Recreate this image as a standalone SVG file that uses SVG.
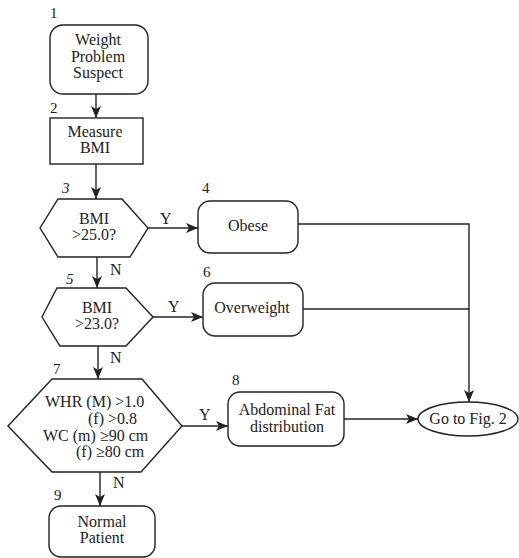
<svg xmlns="http://www.w3.org/2000/svg" width="519" height="558" viewBox="0 0 519 558">
<defs>
<marker id="ah" viewBox="0 0 12 10" refX="12" refY="5" markerWidth="12" markerHeight="10" markerUnits="userSpaceOnUse" orient="auto">
<path d="M0,0 L12,5 L0,10 L3,5 Z" fill="#222"/>
</marker>
<style>
.s{fill:#fff;stroke:#222;stroke-width:1.4}
.c{fill:none;stroke:#222;stroke-width:1.4}
.a{marker-end:url(#ah)}
text{font-family:"Liberation Serif","Times New Roman",serif;font-size:16px;fill:#222}
.m{text-anchor:middle}
.n{font-size:15px}
.i{font-style:italic}
</style>
</defs>
<g id="connectors">
<line class="c a" x1="96" y1="94" x2="96" y2="118"/>
<line class="c a" x1="96" y1="164" x2="96" y2="199"/>
<line class="c a" x1="148" y1="228" x2="198" y2="228"/>
<line class="c a" x1="97" y1="257" x2="97" y2="288"/>
<line class="c a" x1="153" y1="317" x2="203" y2="317"/>
<line class="c a" x1="98" y1="346" x2="98" y2="379"/>
<line class="c a" x1="182" y1="426" x2="228" y2="426"/>
<line class="c a" x1="100" y1="472" x2="100" y2="506"/>
<polyline class="c" points="298,224 469,224 469,309 303,309"/>
<line class="c a" x1="469" y1="309" x2="469" y2="402"/>
<line class="c a" x1="344" y1="419" x2="418" y2="419"/>
<text x="160" y="224">Y</text>
<text x="110" y="275">N</text>
<text x="168" y="312">Y</text>
<text x="110" y="363">N</text>
<text x="199" y="420">Y</text>
<text x="113" y="488">N</text>
</g>
<g id="n1">
<rect class="s" x="50" y="25" width="98" height="69" rx="13"/>
<text class="n" x="50" y="18">1</text>
<text class="m" x="98" y="45">Weight</text>
<text class="m" x="98" y="62">Problem</text>
<text class="m" x="98" y="78">Suspect</text>
</g>
<g id="n2">
<rect class="s" x="50" y="118" width="93" height="46"/>
<text class="n" x="50" y="113">2</text>
<text class="m" x="95" y="137">Measure</text>
<text class="m" x="95" y="153">BMI</text>
</g>
<g id="n3">
<polygon class="s" points="40,228 58,199 122,199 148,228 130,257 58,257"/>
<text class="n i" x="62" y="193">3</text>
<text class="m" x="94" y="224">BMI</text>
<text class="m" x="94" y="240">&gt;25.0?</text>
</g>
<g id="n4">
<rect class="s" x="198" y="201" width="100" height="52" rx="12"/>
<text class="n" x="202" y="193">4</text>
<text class="m" x="248" y="231">Obese</text>
</g>
<g id="n5">
<polygon class="s" points="42,317 57,288 126,288 153,317 126,346 60,346"/>
<text class="n i" x="66" y="284">5</text>
<text class="m" x="97" y="313">BMI</text>
<text class="m" x="97" y="329">&gt;23.0?</text>
</g>
<g id="n6">
<rect class="s" x="203" y="283" width="100" height="53" rx="12"/>
<text class="n" x="203" y="277">6</text>
<text class="m" x="252" y="313">Overweight</text>
</g>
<g id="n7">
<polygon class="s" points="8,426 52,379 142,379 182,426 141,472 52,472"/>
<text class="n" x="53" y="374">7</text>
<text x="45" y="407">WHR (M) &gt;1.0</text>
<text x="88" y="424">(f) &gt;0.8</text>
<text x="43" y="441">WC (m) ≥90 cm</text>
<text x="76" y="457">(f) ≥80 cm</text>
</g>
<g id="n8">
<rect class="s" x="228" y="392" width="116" height="54" rx="12"/>
<text class="n" x="232" y="385">8</text>
<text class="m" x="287" y="415">Abdominal Fat</text>
<text class="m" x="287" y="432">distribution</text>
</g>
<g id="n9">
<rect class="s" x="49" y="506" width="106" height="51" rx="12"/>
<text class="n" x="54" y="500">9</text>
<text class="m" x="102" y="527">Normal</text>
<text class="m" x="102" y="543">Patient</text>
</g>
<g id="goto">
<ellipse class="s" cx="468" cy="419" rx="50" ry="17"/>
<text class="m" x="468" y="424">Go to Fig. 2</text>
</g>
</svg>
